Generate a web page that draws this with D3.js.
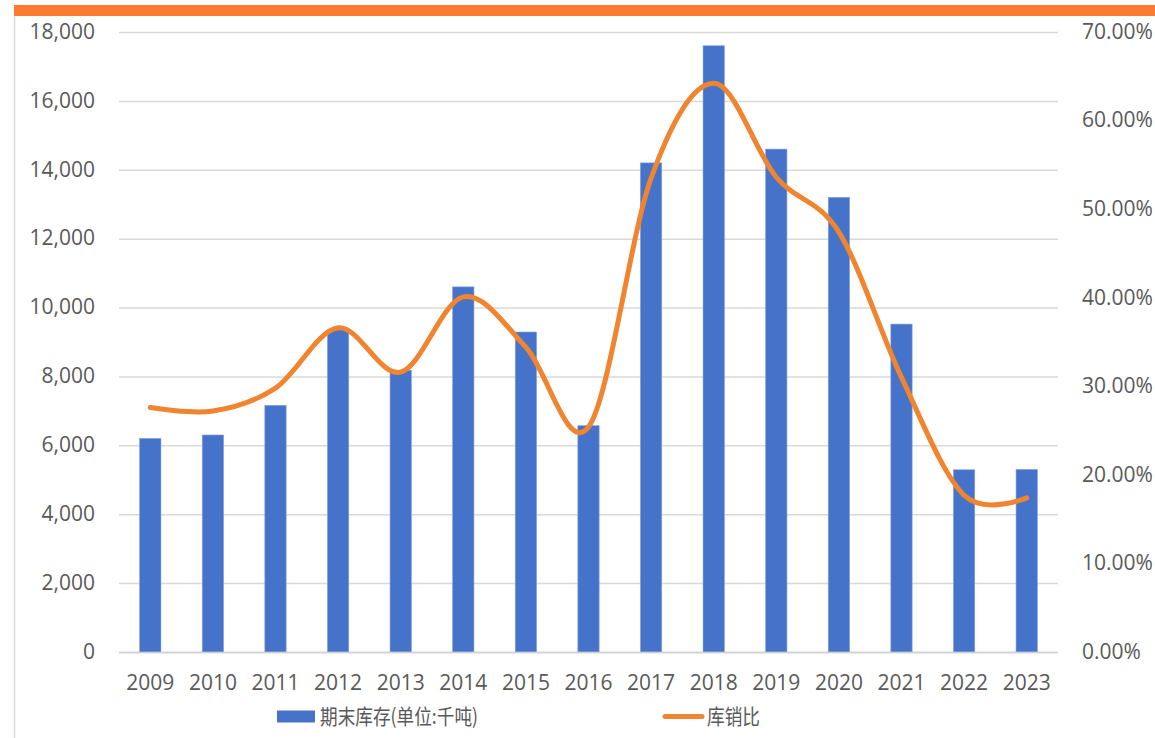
<!DOCTYPE html>
<html>
<head>
<meta charset="utf-8">
<script src="https://cdn.jsdelivr.net/npm/d3@7/dist/d3.min.js"></script>
<style>
  html, body { margin: 0; padding: 0; background: #fff; }
  svg { display: block; }
  .tick text { font-family: "Open Sans", "DejaVu Sans", sans-serif; font-size: 21px; fill: #595959; }
</style>
</head>
<body>
<svg id="chart" width="1155" height="738"></svg>
<script>
// ---- data ----
const years = ["2009","2010","2011","2012","2013","2014","2015","2016","2017","2018","2019","2020","2021","2022","2023"];
const inventory = [6200, 6300, 7160, 9350, 8180, 10600, 9290, 6570, 14200, 17600, 14600, 13200, 9520, 5290, 5300];
const ratio = [0.276, 0.272, 0.298, 0.366, 0.316, 0.401, 0.344, 0.254, 0.535, 0.642, 0.536, 0.474, 0.31, 0.177, 0.174];
const leftTicks = [0, 2000, 4000, 6000, 8000, 10000, 12000, 14000, 16000, 18000];
const rightTicks = [0, 0.1, 0.2, 0.3, 0.4, 0.5, 0.6, 0.7];
const seriesNames = ["期末库存(单位:千吨)", "库销比"];

const svg = d3.select("#chart");
const W = 1155, H = 738;
const plot = { left: 119, right: 1058, top: 32, bottom: 652 };

// frame decorations
svg.append("rect").attr("x", 0).attr("y", 0).attr("width", W).attr("height", H).attr("fill", "#fff");
svg.append("line").attr("x1", 14.5).attr("x2", 14.5).attr("y1", 16).attr("y2", H)
  .attr("stroke", "#d9d9d9").attr("stroke-width", 1.5);
svg.append("rect").attr("x", 14).attr("y", 5).attr("width", W - 14).attr("height", 11).attr("fill", "#FB7C31");

const x = d3.scaleBand().domain(years).range([plot.left, plot.right]).paddingInner(0.66).paddingOuter(0.33);
const yL = d3.scaleLinear().domain([0, 18000]).range([plot.bottom, plot.top]);
const yR = d3.scaleLinear().domain([0, 0.7]).range([plot.bottom, plot.top]);

// gridlines + left axis
const gl = svg.append("g").attr("transform", `translate(${plot.left},0)`)
  .call(d3.axisLeft(yL).tickValues(leftTicks).tickFormat(d3.format(",")).tickSize(-(plot.right - plot.left)).tickPadding(24));
gl.select(".domain").remove();
gl.selectAll(".tick line").attr("stroke", "#d9d9d9").attr("stroke-width", 1.5);
gl.selectAll(".tick text").attr("dy", "0.3em");

// right axis
const gr = svg.append("g").attr("transform", `translate(${plot.right},0)`)
  .call(d3.axisRight(yR).tickValues(rightTicks).tickFormat(d3.format(".2%")).tickSize(0).tickPadding(24));
gr.select(".domain").remove();
gr.selectAll(".tick text").attr("dy", "0.3em");

// bars
svg.append("g").selectAll("rect").data(years).join("rect")
  .attr("x", d => x(d))
  .attr("width", x.bandwidth())
  .attr("y", (d, i) => yL(inventory[i]))
  .attr("height", (d, i) => plot.bottom - yL(inventory[i]))
  .attr("fill", "#4673CA")
  .attr("stroke", "#7f9ede").attr("stroke-width", 0.6);

// baseline
svg.append("line").attr("x1", plot.left).attr("x2", plot.right)
  .attr("y1", plot.bottom + 0.5).attr("y2", plot.bottom + 0.5)
  .attr("stroke", "#d0d0d0").attr("stroke-width", 1.5);

// bottom axis
const gb = svg.append("g").attr("transform", `translate(0,${plot.bottom})`)
  .call(d3.axisBottom(x).tickSize(0));
gb.select(".domain").remove();
gb.selectAll(".tick text").attr("y", 31).attr("dy", "0.35em");

// line
const line = d3.line()
  .x((d, i) => x(years[i]) + x.bandwidth() / 2)
  .y(d => yR(d))
  .curve(d3.curveCardinal.tension(0));
svg.append("path").datum(ratio)
  .attr("d", line)
  .attr("fill", "none")
  .attr("stroke", "#F0842F")
  .attr("stroke-width", 5)
  .attr("stroke-linecap", "round")
  .attr("stroke-linejoin", "round");

// legend
const lg = svg.append("g").attr("font-family", "'Noto Sans CJK SC', sans-serif").attr("font-size", 21).attr("fill", "#595959");
lg.append("rect").attr("x", 277).attr("y", 710.5).attr("width", 38).attr("height", 12).attr("fill", "#4673CA");
lg.append("text").attr("x", 320).attr("y", 717).attr("dy", "0.35em")
  .attr("textLength", 158).attr("lengthAdjust", "spacingAndGlyphs").text(seriesNames[0]);
lg.append("line").attr("x1", 665).attr("x2", 702).attr("y1", 716.5).attr("y2", 716.5)
  .attr("stroke", "#F0842F").attr("stroke-width", 5).attr("stroke-linecap", "round");
lg.append("text").attr("x", 707).attr("y", 717).attr("dy", "0.35em")
  .attr("textLength", 53).attr("lengthAdjust", "spacingAndGlyphs").text(seriesNames[1]);
</script>
</body>
</html>
